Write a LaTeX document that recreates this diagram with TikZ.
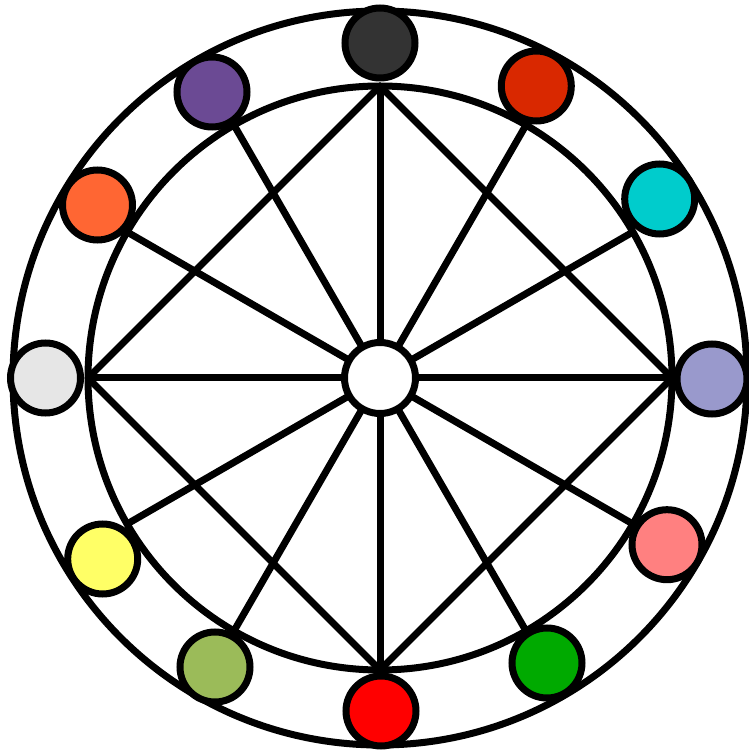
\documentclass[tikz,border=0pt]{standalone}
\usetikzlibrary{calc}
\definecolor{cDark}{HTML}{333333}
\definecolor{cRedOrange}{HTML}{D92800}
\definecolor{cCyan}{HTML}{00CCCC}
\definecolor{cLavender}{HTML}{9999CC}
\definecolor{cPink}{HTML}{FF8080}
\definecolor{cGreen}{HTML}{00AA00}
\definecolor{cRed}{HTML}{FF0000}
\definecolor{cOlive}{HTML}{9BBB59}
\definecolor{cYellow}{HTML}{FFFF66}
\definecolor{cLightGray}{HTML}{E6E6E6}
\definecolor{cOrange}{HTML}{FF6633}
\definecolor{cPurple}{HTML}{6B4A94}
\tikzset{
  ring/.style={circle, draw=black, line width=7pt, inner sep=0pt, outer sep=0pt, minimum size=#1},
  dot/.style={circle, draw=black, line width=7pt, inner sep=0pt, outer sep=0pt, minimum size=70pt, fill=#1},
  wire/.style={draw=black, line width=7pt, line join=round}
}
\begin{document}
\begin{tikzpicture}[x=1pt,y=1pt]
\useasboundingbox (0,0) rectangle (749,756);
\coordinate (c) at (380,378);
\node[ring=734pt] (outer) at (c) {};
\node[ring=584pt] (inner) at (c) {};
% diameters
\draw[wire] (inner.180) -- (inner.0);
\draw[wire] (inner.90) -- (inner.270);
% diamond
\draw[wire] (inner.90) -- (inner.0) -- (inner.270) -- (inner.180) -- cycle;
% spokes
\foreach \a in {30,60,120,150,210,240,300,330}
  \draw[wire] (c) -- (inner.\a);
\node[ring=71pt, fill=white] (hub) at (c) {};
% colour dots
\node[dot=cDark] (d1) at (380,713) {};
\node[dot=cRedOrange] (d2) at (536.3,670) {};
\node[dot=cCyan] (d3) at (659.7,557) {};
\node[dot=cLavender] (d4) at (712,377) {};
\node[dot=cPink] (d5) at (667,211.3) {};
\node[dot=cGreen] (d6) at (547,93) {};
\node[dot=cRed] (d7) at (381,45) {};
\node[dot=cOlive] (d8) at (215,89) {};
\node[dot=cYellow] (d9) at (102.7,197) {};
\node[dot=cLightGray] (d10) at (45.5,378) {};
\node[dot=cOrange] (d11) at (97.5,551) {};
\node[dot=cPurple] (d12) at (212,664) {};
\end{tikzpicture}
\end{document}
